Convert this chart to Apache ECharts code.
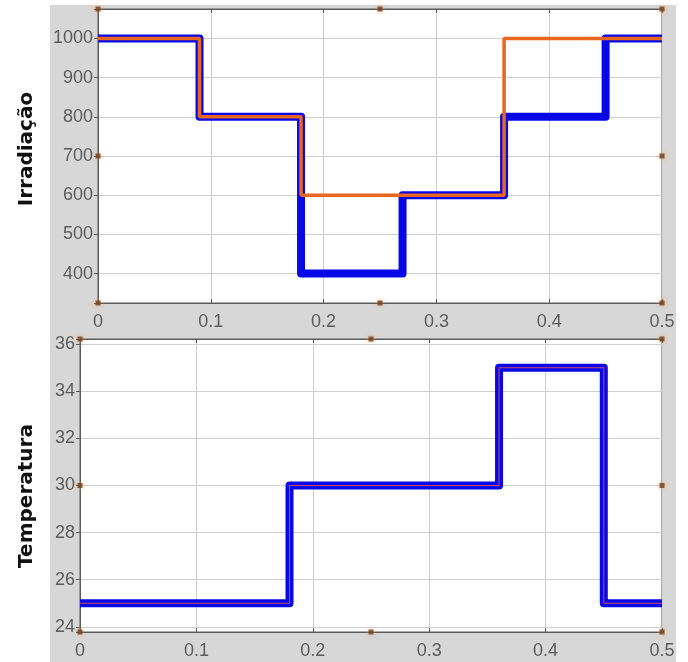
<!DOCTYPE html>
<html><head><meta charset="utf-8">
<script src="https://cdn.jsdelivr.net/npm/echarts@6/dist/echarts.min.js"></script>
<style>html,body{margin:0;padding:0;background:#fff}#c{width:688px;height:662px}</style>
</head><body><div id="c"></div><script>
// ---- data ----
const timeTicks = [0, 0.1, 0.2, 0.3, 0.4, 0.5];
const irrTimes = [0, 0.09, 0.18, 0.27, 0.36, 0.45, 0.5];
const irrMeasured = [1000, 800, 400, 600, 800, 1000, 1000];
const irrRefTimes = [0, 0.09, 0.18, 0.36, 0.5];
const irrReference = [1000, 800, 600, 1000, 1000];
const tempTimes = [0, 0.18, 0.36, 0.45, 0.5];
const tempMeasured = [25, 30, 35, 25, 25];
const tempReference = [25, 30, 35, 25, 25];
const irrTicks = [400, 500, 600, 700, 800, 900, 1000];
const tempTicks = [24, 26, 28, 30, 32, 34, 36];
const irrLimits = [325, 1075];
const tempLimits = [23.78, 36.22];
const handleX = [0, 0.25, 0.5];
const handleYIrr = [325, 700, 1075];
const handleYTemp = [23.78, 30, 36.22];

const pairs = (xs, ys) => xs.map((x, i) => [x, ys[i]]);
const handles = (hx, hy) => {
  const out = [];
  hx.forEach((x, i) => hy.forEach((y, j) => { if (!(i === 1 && j === 1)) out.push([x, y]); }));
  return out;
};

const labelFont = { fontFamily: 'Liberation Sans, Arial, sans-serif', fontSize: 18, color: '#5c5c5c' };
const axisLineStyle = { lineStyle: { color: '#5a5a5a', width: 1 } };
const gridLine = { show: true, lineStyle: { color: '#cfcfcf', width: 1 } };

function xAxes(gi) {
  return [
    { type: 'value', gridIndex: gi, min: 0, max: 0.5, interval: 0.1, position: 'bottom',
      axisLine: Object.assign({ show: true }, axisLineStyle),
      axisTick: { show: true, inside: true, length: 4, lineStyle: { color: '#5a5a5a' } },
      axisLabel: Object.assign({ margin: 10, showMinLabel: true, showMaxLabel: true,
        formatter: v => timeTicks.some(t => Math.abs(t - v) < 1e-9) ? String(+v.toFixed(1)) : '' }, labelFont),
      splitLine: gridLine },
    { type: 'value', gridIndex: gi, min: 0, max: 0.5, interval: 0.1, position: 'top',
      axisLine: Object.assign({ show: true }, axisLineStyle),
      axisTick: { show: true, inside: true, length: 4, lineStyle: { color: '#5a5a5a' } },
      axisLabel: { show: false }, splitLine: { show: false } }
  ];
}
function yAxes(gi, lim, ticks, split) {
  const fmt = v => ticks.some(t => Math.abs(t - v) < 1e-9) ? String(v) : '';
  return [
    { type: 'value', gridIndex: gi, min: lim[0], max: lim[1], splitNumber: split, position: 'left',
      axisLine: Object.assign({ show: true }, axisLineStyle),
      axisTick: { show: false },
      axisLabel: Object.assign({ margin: 5, formatter: fmt }, labelFont),
      splitLine: gridLine },
    { type: 'value', gridIndex: gi, min: lim[0], max: lim[1], splitNumber: split, position: 'right',
      axisLine: Object.assign({ show: true }, axisLineStyle),
      axisTick: { show: true, inside: true, length: 4, lineStyle: { color: '#5a5a5a' } },
      axisLabel: { show: false }, splitLine: { show: false } }
  ];
}

const handleStyle = { color: '#6b3f1e', shadowBlur: 4, shadowColor: 'rgba(240,150,80,0.9)' };

const chart = echarts.init(document.getElementById('c'), null, { renderer: 'canvas' });
chart.setOption({
  animation: false,
  backgroundColor: '#ffffff',
  graphic: [
    { type: 'rect', z: -10, silent: true, shape: { x: 50, y: 5, width: 626, height: 657 },
      style: { fill: '#d7d7d7' } },
    { type: 'text', x: 27, y: 149, rotation: Math.PI / 2, z: 10,
      style: { text: 'Irradiação', font: 'bold 20px "DejaVu Sans", sans-serif', fill: '#111',
        align: 'center', verticalAlign: 'middle' } },
    { type: 'text', x: 27, y: 496, rotation: Math.PI / 2, z: 10,
      style: { text: 'Temperatura', font: 'bold 20px "DejaVu Sans", sans-serif', fill: '#111',
        align: 'center', verticalAlign: 'middle' } }
  ],
  grid: [
    { left: 98, top: 9, width: 564, height: 294, show: true, backgroundColor: '#ffffff',
      borderColor: '#5a5a5a', borderWidth: 1, outerBoundsMode: 'none' },
    { left: 80, top: 339, width: 582, height: 293, show: true, backgroundColor: '#ffffff',
      borderColor: '#5a5a5a', borderWidth: 1, outerBoundsMode: 'none' }
  ],
  xAxis: [...xAxes(0), ...xAxes(1)],
  yAxis: [...yAxes(0, irrLimits, irrTicks, 8), ...yAxes(1, tempLimits, tempTicks, 6)],
  series: [
    { type: 'line', xAxisIndex: 0, yAxisIndex: 0, step: 'end', showSymbol: false,
      data: pairs(irrTimes, irrMeasured),
      lineStyle: { color: '#0808e6', width: 8, join: 'round', cap: 'butt' }, z: 2 },
    { type: 'line', xAxisIndex: 0, yAxisIndex: 0, step: 'end', showSymbol: false,
      data: pairs(irrRefTimes, irrReference),
      lineStyle: { color: '#e8661e', width: 3.5 }, z: 3 },
    { type: 'line', xAxisIndex: 2, yAxisIndex: 2, step: 'end', showSymbol: false,
      data: pairs(tempTimes, tempMeasured),
      lineStyle: { color: '#0808e6', width: 8, join: 'round', cap: 'butt' }, z: 2 },
    { type: 'line', xAxisIndex: 2, yAxisIndex: 2, step: 'end', showSymbol: false,
      data: pairs(tempTimes, tempReference),
      lineStyle: { color: '#d04a6a', width: 1 }, z: 3 },
    { type: 'scatter', xAxisIndex: 0, yAxisIndex: 0, symbol: 'rect', symbolSize: 5,
      data: handles(handleX, handleYIrr), itemStyle: handleStyle, z: 5, clip: false },
    { type: 'scatter', xAxisIndex: 2, yAxisIndex: 2, symbol: 'rect', symbolSize: 5,
      data: handles(handleX, handleYTemp), itemStyle: handleStyle, z: 5, clip: false }
  ]
});
</script></body></html>
